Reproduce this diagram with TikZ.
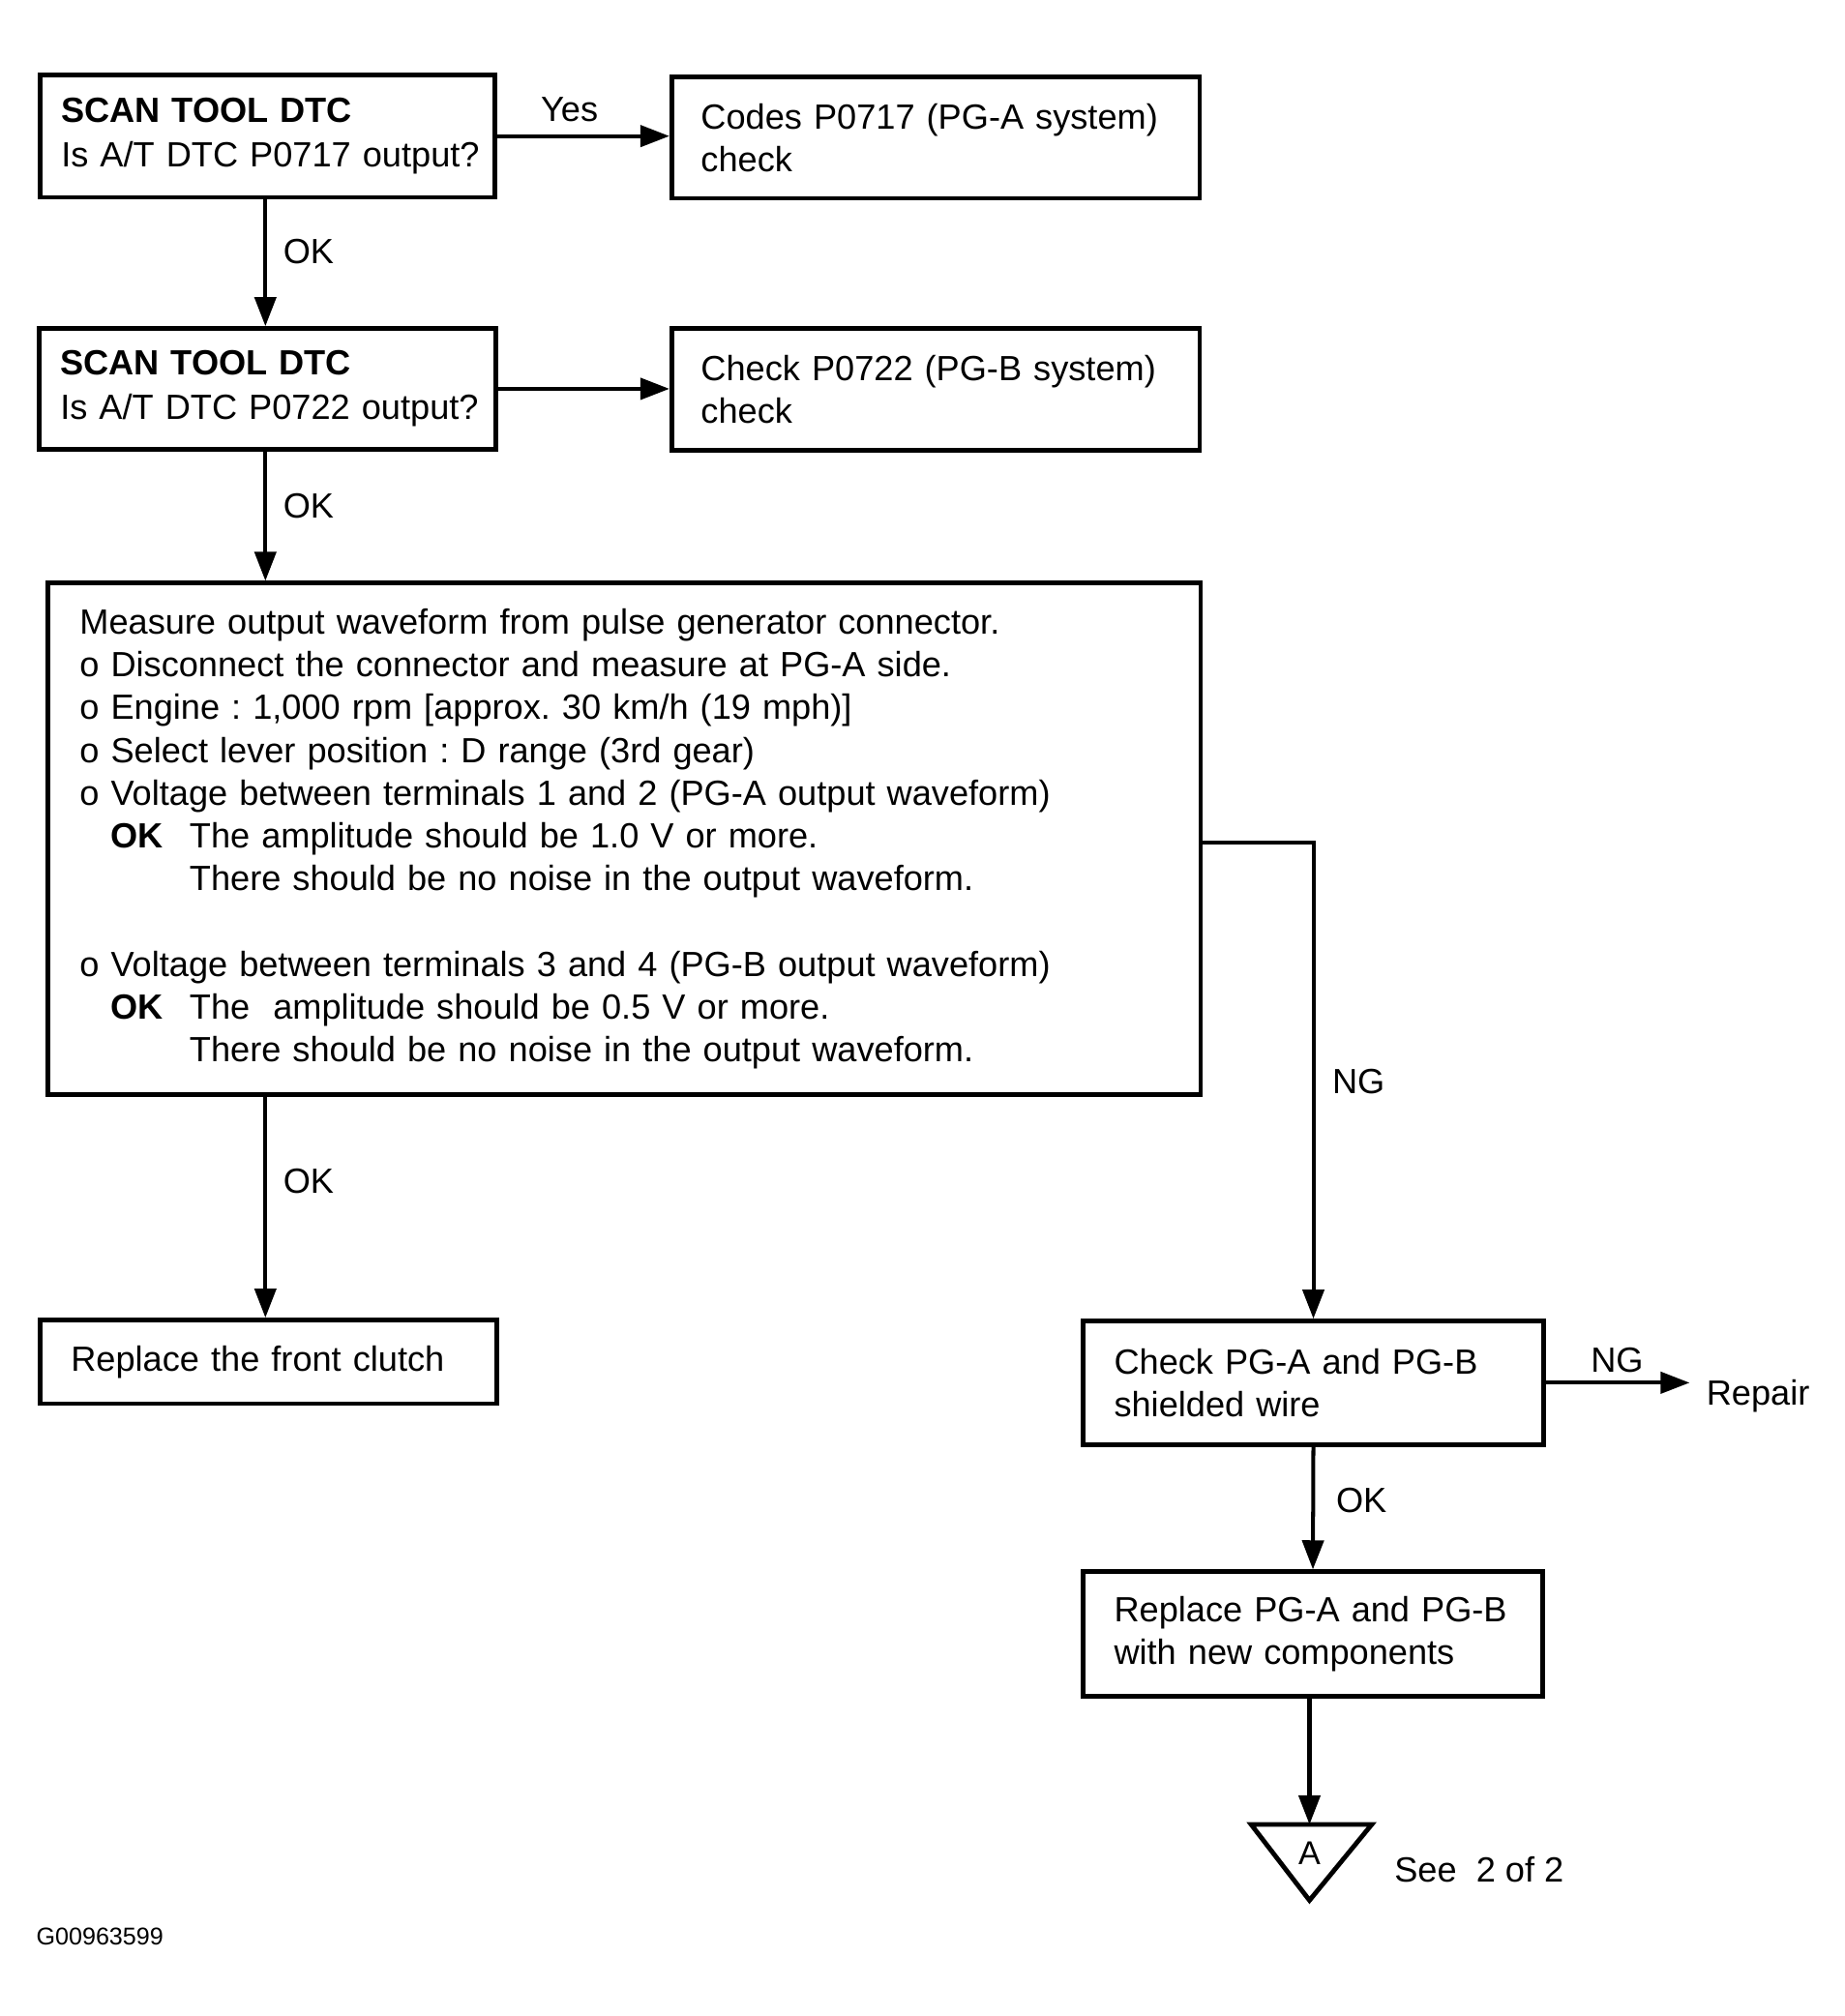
\documentclass[tikz,border=0pt]{standalone}
\usepackage{fontspec}
\setmainfont{Liberation Sans}
\usetikzlibrary{arrows.meta}
\newcommand\mainfs{\fontsize{18pt}{22pt}\selectfont\frenchspacing}
\newcommand\boxfs{\fontsize{18pt}{23pt}\selectfont\frenchspacing}
\begin{document}
\begin{tikzpicture}[x=0.5pt,y=-0.5pt,
  box/.style={draw, line width=2.4pt, align=left, inner ysep=0pt, font=\mainfs},
  arr/.style={line width=2pt, -{Triangle[length=15pt,width=11pt]}},
  lbl/.style={anchor=base west, inner sep=0pt, font=\mainfs},
  tri/.style={draw, line width=2.4pt, line join=miter},
]
\useasboundingbox[fill=white] (0,0) rectangle (1897,2074);

\node[box, font=\boxfs, inner xsep=11pt, text width=212pt, minimum height=63pt] (b1) at (275,140)
  {\mbox{\textbf{SCAN TOOL DTC}}\\\mbox{Is A/T DTC P0717 output?}};
\node[box, inner xsep=15pt, text width=241.5pt, minimum height=62.5pt] (c1) at (962.5,141.5)
  {\mbox{Codes P0717 (PG-A system)}\\check};
\node[box, font=\boxfs, inner xsep=11pt, text width=213pt, minimum height=62pt] (b2) at (275,400)
  {\mbox{\textbf{SCAN TOOL DTC}}\\\mbox{Is A/T DTC P0722 output?}};
\node[box, inner xsep=15pt, text width=241.5pt, minimum height=62.5pt] (c2) at (962.5,400.5)
  {\mbox{Check P0722 (PG-B system)}\\check};
\node[box, inner xsep=16.5pt, text width=560pt, minimum height=263pt] (m) at (642,863)
  {Measure output waveform from pulse generator connector.\\
   o Disconnect the connector and measure at PG-A side.\\
   o Engine : 1,000 rpm [approx. 30 km/h (19 mph)]\\
   o Select lever position : D range (3rd gear)\\
   o Voltage between terminals 1 and 2 (PG-A output waveform)\\
   \hspace*{16pt}\makebox[40.5pt][l]{\textbf{OK}}The amplitude should be 1.0 V or more.\\
   \hspace*{56.5pt}There should be no noise in the output waveform.\\[22pt]
   o Voltage between terminals 3 and 4 (PG-B output waveform)\\
   \hspace*{16pt}\makebox[40.5pt][l]{\textbf{OK}}The\ \ amplitude should be 0.5 V or more.\\
   \hspace*{56.5pt}There should be no noise in the output waveform.};
\node[box, inner xsep=16pt, text width=203pt, minimum height=43pt] (rc) at (276,1401)
  {\mbox{Replace the front clutch}};
\node[box, inner xsep=16pt, text width=205pt, minimum height=63.5pt] (chk) at (1351,1422.5)
  {\mbox{Check PG-A and PG-B}\\shielded wire};
\node[box, inner xsep=16pt, text width=204.5pt, minimum height=64pt] (rpg) at (1350.5,1681)
  {\mbox{Replace PG-A and PG-B}\\\mbox{with new components}};

% off-page connector triangle
\coordinate (tt) at (1347,1877);
\draw[tri] (1287,1877) -- (1411,1877) -- (1347,1955) -- cycle;
\node[inner sep=0pt, anchor=base, font=\fontsize{17pt}{19pt}\selectfont] (a) at (1347,1918) {A};

% connectors
\coordinate (lx) at (273,0);
\coordinate (ngy) at (0,867);
\coordinate (rep) at (1738,0);
\draw[arr] (b1.east) -- (b1.east -| c1.west);
\draw[arr] (b2.east) -- (b2.east -| c2.west);
\draw[arr] (b1.south -| lx) -- (b2.north -| lx);
\draw[arr] (b2.south -| lx) -- (m.north -| lx);
\draw[arr] (m.south -| lx) -- (rc.north -| lx);
\draw[arr] (m.east |- ngy) -| (chk.north);
\draw[arr] (chk.south) -- (rpg.north);
\draw[arr] (chk.east) -- (chk.east -| rep);
\draw[arr] (rpg.south -| tt) -- (tt);

% labels
\node[lbl] (lyes) at (556,125) {Yes};
\node[lbl] (lok1) at (291,271) {OK};
\node[lbl] (lok2) at (291,533) {OK};
\node[lbl] (lok3) at (291,1228) {OK};
\node[lbl] (lok4) at (1374,1556) {OK};
\node[lbl] (lng1) at (1370,1125) {NG};
\node[lbl] (lng2) at (1636,1412) {NG};
\node[lbl] (lrep) at (1755,1446) {Repair};
\node[lbl] (lsee) at (1434,1936) {See\ \ 2 of 2};
\node[lbl, font=\fontsize{12.5pt}{14pt}\selectfont] (lid) at (37,2001) {G00963599};
\end{tikzpicture}
\end{document}
